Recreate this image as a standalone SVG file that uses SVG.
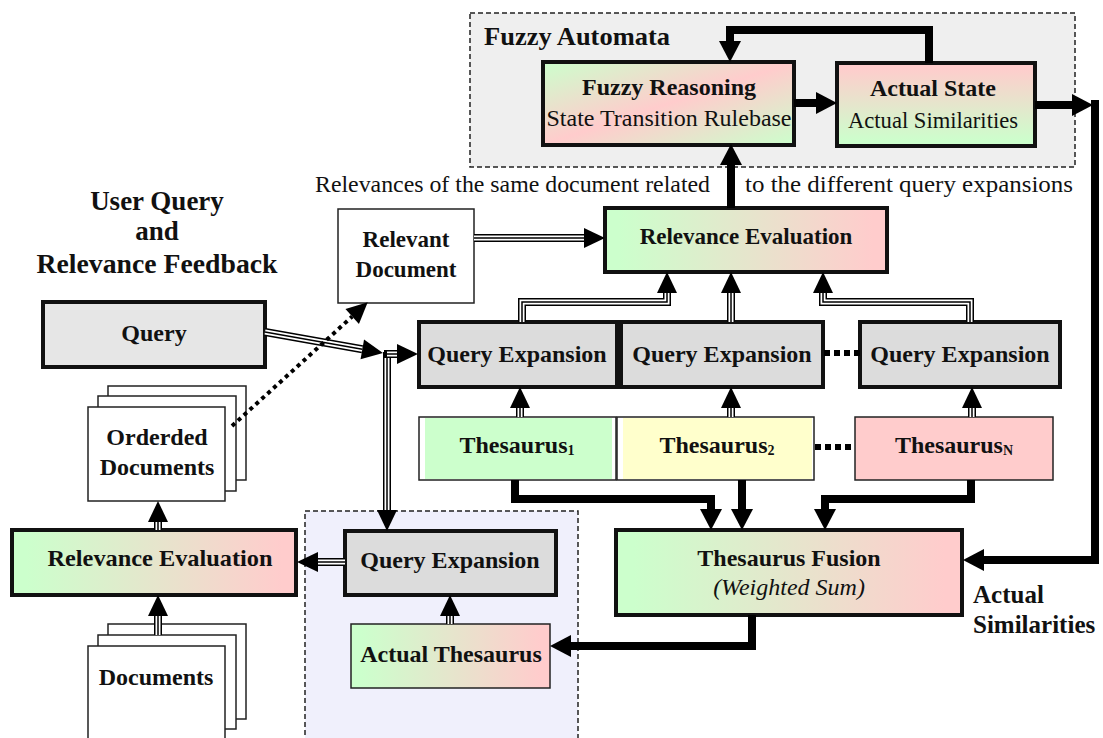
<svg xmlns="http://www.w3.org/2000/svg" width="1103" height="738" viewBox="0 0 1103 738">
<style>
text{font-family:"Liberation Serif","Times New Roman",serif;fill:#111}
.b{font-weight:bold}
.m{text-anchor:middle}
.thick{stroke:#111;stroke-width:4}
.thin{stroke:#222;stroke-width:1.5}
.k{fill:none;stroke:#000;stroke-width:8;stroke-linejoin:miter}
.t1{fill:none;stroke:#000;stroke-width:8}
.t2{fill:none;stroke:#fff;stroke-width:5}
.t3{fill:none;stroke:#000;stroke-width:1.5}
.dot{fill:none;stroke:#000;stroke-width:6;stroke-dasharray:6 4}
.page{fill:#fff;stroke:#222;stroke-width:1.5}
</style>
<defs>
<linearGradient id="gh" x1="0" y1="0" x2="1" y2="0"><stop offset="0.05" stop-color="#ccffcc"/><stop offset="0.95" stop-color="#ffcccc"/></linearGradient>
<linearGradient id="gfr" x1="0" y1="0" x2="1" y2="1"><stop offset="0" stop-color="#ccffcc"/><stop offset="0.5" stop-color="#ffcccc"/><stop offset="1" stop-color="#ccffcc"/></linearGradient>
<linearGradient id="gas" x1="0" y1="0" x2="0" y2="1"><stop offset="0.05" stop-color="#ffcccc"/><stop offset="0.95" stop-color="#ccffcc"/></linearGradient>
<marker id="ah" markerUnits="userSpaceOnUse" markerWidth="24" markerHeight="24" refX="0" refY="11" orient="auto" overflow="visible"><path d="M0,0 L21,11 L0,22 z" fill="#000"/></marker>
<marker id="at" markerUnits="userSpaceOnUse" markerWidth="24" markerHeight="24" refX="0" refY="10" orient="auto" overflow="visible"><path d="M0,0 L21,10 L0,20 z" fill="#000"/></marker>
</defs>
<rect width="1103" height="738" fill="#fff"/>

<g id="fuzzy-automata">
<rect x="470" y="13" width="605" height="154" fill="#efefef" stroke="#222" stroke-width="1.5" stroke-dasharray="5 3"/>
<text class="b" x="484" y="45" font-size="25" textLength="186" lengthAdjust="spacingAndGlyphs">Fuzzy Automata</text>
</g>
<g id="actual-group">
<rect x="305" y="511" width="273" height="235" fill="#f0f0fc" stroke="#222" stroke-width="1.5" stroke-dasharray="5 3"/>
</g>

<g id="fuzzy-reasoning">
<rect x="543" y="62" width="251" height="83" fill="url(#gfr)" class="thick"/>
<text class="b m" x="669" y="95" font-size="24">Fuzzy Reasoning</text>
<text class="m" x="669" y="126" font-size="24" textLength="245" lengthAdjust="spacingAndGlyphs">State Transition Rulebase</text>
</g>
<g id="actual-state">
<rect x="837" y="63" width="198" height="83" fill="url(#gas)" class="thick"/>
<text class="b m" x="933" y="96" font-size="24">Actual State</text>
<text class="m" x="933" y="128" font-size="23" textLength="170" lengthAdjust="spacingAndGlyphs">Actual Similarities</text>
</g>

<g id="labels">
<text x="315" y="192" font-size="24" textLength="395" lengthAdjust="spacingAndGlyphs">Relevances of the same document related</text>
<text x="745" y="192" font-size="24" textLength="328" lengthAdjust="spacingAndGlyphs">to the different query expansions</text>
<text class="b m" x="157" y="210" font-size="27">User Query</text>
<text class="b m" x="157" y="240" font-size="27">and</text>
<text class="b m" x="157" y="273" font-size="27" textLength="241" lengthAdjust="spacingAndGlyphs">Relevance Feedback</text>
<text class="b" x="973" y="603" font-size="25">Actual</text>
<text class="b" x="973" y="633" font-size="25">Similarities</text>
</g>

<g id="relevance-evaluation-top">
<rect x="605" y="208" width="282" height="64" fill="url(#gh)" class="thick"/>
<text class="b m" x="746" y="244" font-size="23">Relevance Evaluation</text>
</g>
<g id="relevant-document">
<rect x="338" y="209" width="136" height="94" fill="#fff" class="thin"/>
<text class="b m" x="406" y="247" font-size="23">Relevant</text>
<text class="b m" x="406" y="277" font-size="23">Document</text>
</g>
<g id="query">
<rect x="43" y="302" width="222" height="65" fill="#e6e6e6" class="thick"/>
<text class="b m" x="154" y="341" font-size="24">Query</text>
</g>

<g id="query-expansion-1">
<rect x="419" y="322" width="198" height="65" fill="#dcdcdc" class="thick"/>
<text class="b m" x="517" y="362" font-size="24">Query Expansion</text>
</g>
<g id="query-expansion-2">
<rect x="621" y="322" width="202" height="65" fill="#dcdcdc" class="thick"/>
<text class="b m" x="722" y="362" font-size="24">Query Expansion</text>
</g>
<g id="query-expansion-n">
<rect x="860" y="322" width="200" height="65" fill="#dcdcdc" class="thick"/>
<text class="b m" x="960" y="362" font-size="24">Query Expansion</text>
</g>

<g id="thesaurus-1">
<rect x="419" y="417" width="197" height="63" fill="#fff" class="thin"/>
<rect x="425" y="418" width="187" height="61" fill="#ccffcc"/>
<text class="b m" x="517" y="453" font-size="24">Thesaurus<tspan font-size="14" dy="2">1</tspan></text>
</g>
<g id="thesaurus-2">
<rect x="617" y="417" width="197" height="63" fill="#fff" class="thin"/>
<rect x="623" y="418" width="189" height="61" fill="#ffffcc"/>
<text class="b m" x="717" y="453" font-size="24">Thesaurus<tspan font-size="14" dy="2">2</tspan></text>
</g>
<g id="thesaurus-n">
<rect x="855" y="417" width="198" height="63" fill="#ffcccc" class="thin"/>
<text class="b m" x="954" y="453" font-size="24">Thesaurus<tspan font-size="14" dy="2">N</tspan></text>
</g>

<g id="orderded-documents">
<rect x="108" y="386" width="138" height="94" class="page"/>
<rect x="98" y="396" width="138" height="95" class="page"/>
<rect x="88" y="407" width="137" height="94" class="page"/>
<text class="b m" x="157" y="445" font-size="24">Orderded</text>
<text class="b m" x="157" y="475" font-size="24">Documents</text>
</g>
<g id="relevance-evaluation-left">
<rect x="12" y="530" width="284" height="65" fill="url(#gh)" class="thick"/>
<text class="b m" x="160" y="566" font-size="24" textLength="225" lengthAdjust="spacingAndGlyphs">Relevance Evaluation</text>
</g>
<g id="documents">
<rect x="108" y="624" width="138" height="95" class="page"/>
<rect x="98" y="635" width="138" height="94" class="page"/>
<rect x="88" y="646" width="137" height="100" class="page"/>
<text class="b m" x="156" y="685" font-size="24">Documents</text>
</g>

<g id="query-expansion-actual">
<rect x="345" y="531" width="211" height="64" fill="#dcdcdc" class="thick"/>
<text class="b m" x="450" y="568" font-size="24">Query Expansion</text>
</g>
<g id="actual-thesaurus">
<rect x="351" y="624" width="199" height="64" fill="url(#gh)" class="thin"/>
<text class="b m" x="451" y="662" font-size="24">Actual Thesaurus</text>
</g>
<g id="thesaurus-fusion">
<rect x="616" y="530" width="346" height="85" fill="url(#gh)" class="thick"/>
<text class="b m" x="789" y="566" font-size="24">Thesaurus Fusion</text>
<text class="m" x="789" y="595" font-size="24" font-style="italic">(Weighted Sum)</text>
</g>

<g id="connectors">
<path class="k" d="M929,63 V30 H730 V41" marker-end="url(#ah)"/>
<path class="k" d="M794,103 H816" marker-end="url(#ah)"/>
<path class="k" d="M731,208 V165" marker-end="url(#ah)"/>
<path class="k" d="M1035,105 H1072" marker-end="url(#ah)"/>
<path class="k" d="M1095,100 V560 H984" marker-end="url(#ah)"/>
<path class="k" d="M515,480 V499 H711 V509" marker-end="url(#ah)"/>
<path class="k" d="M742,480 V509" marker-end="url(#ah)"/>
<path class="k" d="M971,480 V499 H825 V509" marker-end="url(#ah)"/>
<path class="k" d="M752,615 V646 H571" marker-end="url(#ah)"/>

<g>
<path class="t1" d="M265,332 L362.3,349.3"/><path class="t2" d="M265,332 L362.3,349.3"/><path class="t3" d="M265,332 L362.3,349.3" marker-end="url(#at)"/>
<path class="t1" d="M387,352 V510"/><path class="t2" d="M387,352 V510"/><path class="t3" d="M387,352 V510" marker-end="url(#at)"/>
<path class="t1" d="M384,354 H397"/><path class="t2" d="M387,354 H397"/><path class="t3" d="M387,354 H397" marker-end="url(#at)"/>
<path class="t1" d="M474,238 H584"/><path class="t2" d="M474,238 H584"/><path class="t3" d="M474,238 H584" marker-end="url(#at)"/>
<path class="t1" d="M522,322 V302 H667 V293"/><path class="t2" d="M522,322 V302 H667 V293"/><path class="t3" d="M522,322 V302 H667 V293" marker-end="url(#at)"/>
<path class="t1" d="M731,322 V293"/><path class="t2" d="M731,322 V293"/><path class="t3" d="M731,322 V293" marker-end="url(#at)"/>
<path class="t1" d="M970,322 V302 H823 V293"/><path class="t2" d="M970,322 V302 H823 V293"/><path class="t3" d="M970,322 V302 H823 V293" marker-end="url(#at)"/>
<path class="t1" d="M520,417 V408"/><path class="t2" d="M520,417 V408"/><path class="t3" d="M520,417 V408" marker-end="url(#at)"/>
<path class="t1" d="M731,417 V408"/><path class="t2" d="M731,417 V408"/><path class="t3" d="M731,417 V408" marker-end="url(#at)"/>
<path class="t1" d="M972,417 V408"/><path class="t2" d="M972,417 V408"/><path class="t3" d="M972,417 V408" marker-end="url(#at)"/>
<path class="t1" d="M345,562 H318"/><path class="t2" d="M345,562 H318"/><path class="t3" d="M345,562 H318" marker-end="url(#at)"/>
<path class="t1" d="M450,624 V616"/><path class="t2" d="M450,624 V616"/><path class="t3" d="M450,624 V616" marker-end="url(#at)"/>
<path class="t1" d="M158,530 V522"/><path class="t2" d="M158,530 V522"/><path class="t3" d="M158,530 V522" marker-end="url(#at)"/>
<path class="t1" d="M158,635 V616"/><path class="t2" d="M158,635 V616"/><path class="t3" d="M158,635 V616" marker-end="url(#at)"/>
</g>

<path d="M232,426 L352.2,316.5" fill="none" stroke="#000" stroke-width="4" stroke-dasharray="4 4" marker-end="url(#at)"/>
<path class="dot" d="M824,353 H860"/>
<path class="dot" d="M815,447 H855"/>
</g>
</svg>
